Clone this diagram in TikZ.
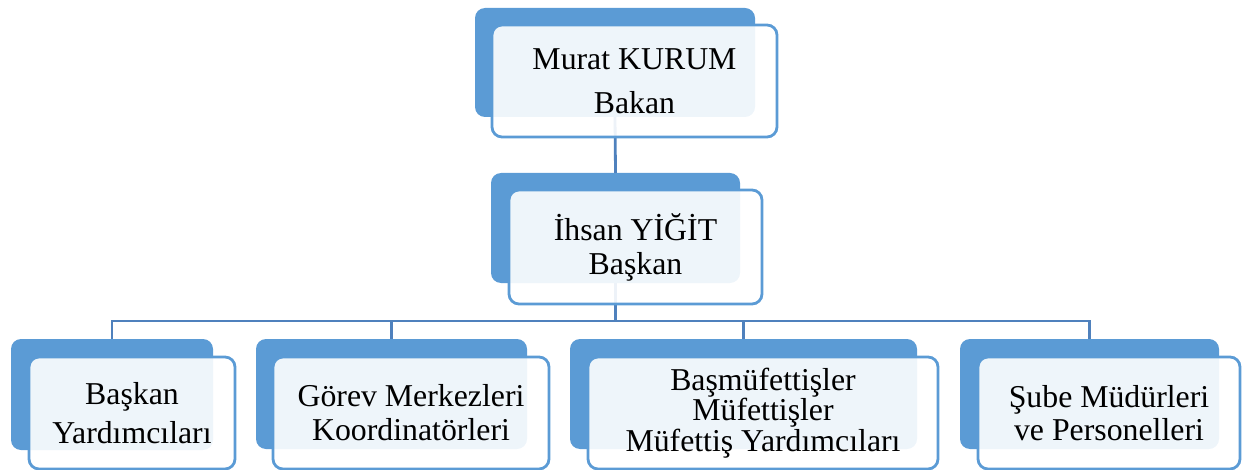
\documentclass[tikz,border=0pt]{standalone}
\usepackage{fontspec}
\setmainfont{Liberation Serif}
\usepackage{tikz}
\usetikzlibrary{calc, positioning}
\definecolor{OfficeBlue}{RGB}{91, 155, 213}
\definecolor{LineBlue}{RGB}{79, 129, 189}

\tikzset{
    backbox/.style={draw=none, fill=OfficeBlue, rounded corners=10pt, inner sep=0pt},
    frontbox/.style={draw=OfficeBlue, line width=2.8pt, fill=white, fill opacity=0.9,
        text opacity=1, rounded corners=10pt, inner sep=0pt, align=center},
    txt/.style={font=\fontsize{31.8}{#1}\selectfont},
    link/.style={draw=LineBlue, line width=2.8pt}
}

\begin{document}
\begin{tikzpicture}[x=1pt, y=-1pt]
    \useasboundingbox (0,0) rectangle (1246,470);

    % Arka kutular
    \node[backbox, minimum width=280pt, minimum height=109pt] (bakanbg) at (615,62.5) {};
    \node[backbox, minimum width=249pt, minimum height=110pt] (baskanbg) at (615.5,228) {};
    \node[backbox, minimum width=202pt, minimum height=111pt] (yardbg) at (112,394.5) {};
    \node[backbox, minimum width=271pt, minimum height=110pt] (gorevbg) at (391.5,394) {};
    \node[backbox, minimum width=347pt, minimum height=110pt] (mufbg) at (743.5,394) {};
    \node[backbox, minimum width=259pt, minimum height=110pt] (subebg) at (1089.5,394) {};

    % Baglantilar
    \coordinate (bus) at (0,321);
    \draw[link] (bakanbg.south) -- (baskanbg.north);
    \draw[link] (baskanbg.south) -- (baskanbg.south |- bus) -| (yardbg.north);
    \draw[link] (baskanbg.south |- bus) -| (gorevbg.north);
    \draw[link] (baskanbg.south |- bus) -| (mufbg.north);
    \draw[link] (baskanbg.south |- bus) -| (subebg.north);

    % On kutular
    \node[frontbox, txt=44pt, minimum width=285pt, minimum height=112pt] (bakan) at (634.5,81)
        {Murat KURUM\\Bakan};
    \node[frontbox, txt=34pt, minimum width=253pt, minimum height=114pt] (baskan) at (635.5,247)
        {İhsan YİĞİT\\Başkan};
    \node[frontbox, txt=39pt, minimum width=206pt, minimum height=112pt] (yard) at (132,413)
        {Başkan\\Yardımcıları};
    \node[frontbox, txt=34pt, minimum width=276pt, minimum height=112pt] (gorev) at (411,413)
        {Görev Merkezleri\\Koordinatörleri};
    \node[frontbox, txt=30.5pt, minimum width=350pt, minimum height=112pt] (muf) at (763,413)
        {Başmüfettişler\\Müfettişler\\Müfettiş Yardımcıları};
    \node[frontbox, txt=33pt, minimum width=262pt, minimum height=112pt] (sube) at (1109,413)
        {Şube Müdürleri\\ve Personelleri};
\end{tikzpicture}
\end{document}
